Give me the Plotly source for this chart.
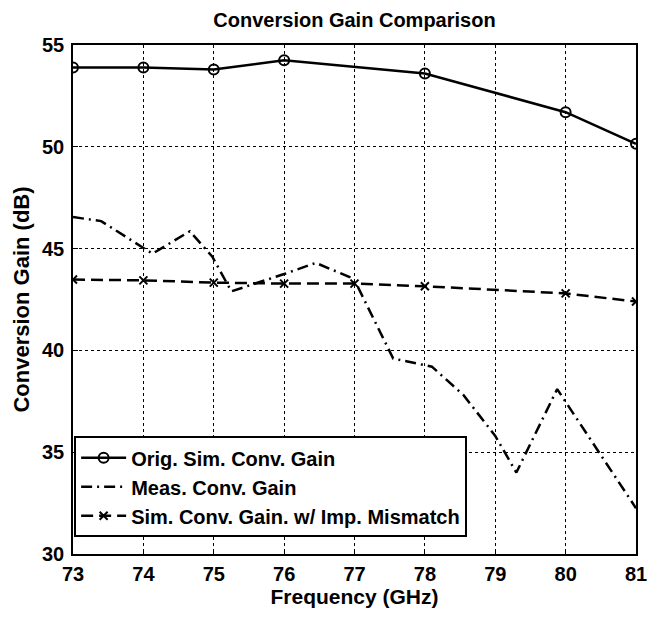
import plotly.graph_objects as go

# Frequency sweep (GHz) and conversion gain (dB) for each curve
orig_freq = [73, 74, 75, 76, 78, 80, 81]
orig_gain = [53.9, 53.9, 53.8, 54.25, 53.6, 51.7, 50.15]

meas_freq = [73, 73.4, 74.13, 74.66, 74.98, 75.25, 76.0, 76.45, 76.93, 77.05,
             77.55, 78.1, 78.55, 79.0, 79.3, 79.88, 81]
meas_gain = [46.55, 46.35, 44.75, 45.85, 44.6, 42.9, 43.75, 44.3, 43.6, 43.1,
             39.6, 39.2, 37.8, 35.8, 34.0, 38.1, 32.25]

mism_freq = [73, 74, 75, 76, 77, 78, 80, 81]
mism_gain = [43.48, 43.44, 43.33, 43.28, 43.28, 43.15, 42.8, 42.4]

x_ticks = [73, 74, 75, 76, 77, 78, 79, 80, 81]
y_ticks = [30, 35, 40, 45, 50, 55]

FONT = "Liberation Sans, Arial, sans-serif"

fig = go.Figure()

fig.add_trace(go.Scatter(
    x=orig_freq, y=orig_gain, name="<b>Orig. Sim. Conv. Gain</b>",
    mode="lines+markers",
    line=dict(color="black", width=2.5),
    marker=dict(symbol="circle-open", size=10, color="black", line=dict(width=2)),
))
fig.add_trace(go.Scatter(
    x=meas_freq, y=meas_gain, name="<b>Meas. Conv. Gain</b>",
    mode="lines",
    line=dict(color="black", width=2.5, dash="11px,5px,2px,5px"),
))
fig.add_trace(go.Scatter(
    x=mism_freq, y=mism_gain, name="<b>Sim. Conv. Gain. w/ Imp. Mismatch</b>",
    mode="lines+markers",
    line=dict(color="black", width=2.5, dash="12px,6px"),
    marker=dict(symbol="x-thin", size=8, color="black", line=dict(width=2, color="black")),
))

axis_common = dict(
    showline=True, linecolor="black", linewidth=1.5, mirror=True,
    ticks="inside", ticklen=5, tickcolor="black", tickwidth=1.2,
    showgrid=True, gridcolor="black", gridwidth=1, griddash="dot",
    zeroline=False,
    tickfont=dict(family=FONT, size=20, color="black"),
)

fig.update_xaxes(
    range=[73, 81], tickvals=x_ticks, ticktext=[f"<b>{v}</b>" for v in x_ticks],
    title=dict(text="<b>Frequency (GHz)</b>", standoff=4,
               font=dict(family=FONT, size=21, color="black")),
    ticklabelstandoff=1,
    **axis_common,
)
fig.update_yaxes(
    range=[30, 55], tickvals=y_ticks, ticktext=[f"<b>{v}</b>" for v in y_ticks],
    title=dict(text="<b>Conversion Gain (dB)</b>", standoff=6,
               font=dict(family=FONT, size=22, color="black")),
    ticklabelstandoff=3,
    **axis_common,
)

fig.update_layout(
    width=659, height=620,
    margin=dict(l=73, r=12, t=45, b=66),
    paper_bgcolor="white", plot_bgcolor="white",
    title=dict(text="<b>Conversion Gain Comparison</b>", x=0.5, xref="paper",
               y=0.967, yanchor="middle",
               font=dict(family=FONT, size=20, color="black")),
    showlegend=True,
    legend=dict(
        x=0.002, y=0.033, xanchor="left", yanchor="bottom",
        bgcolor="white", bordercolor="black", borderwidth=2,
        font=dict(family=FONT, size=20, color="black"),
        itemwidth=45, tracegroupgap=0,
    ),
)

fig.write_html("out.html")
